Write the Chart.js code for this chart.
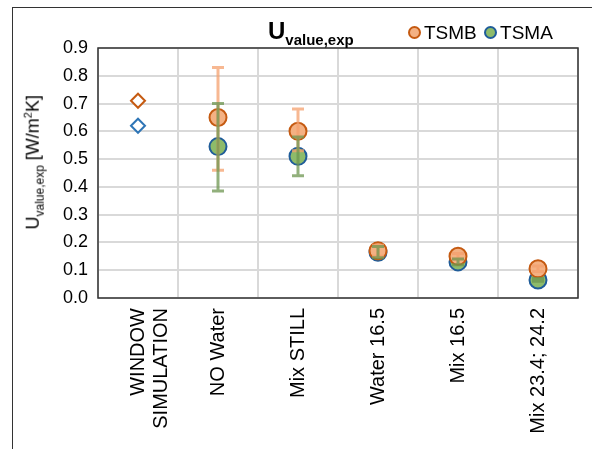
<!DOCTYPE html>
<html><head><meta charset="utf-8">
<script src="https://cdn.jsdelivr.net/npm/chart.js@4"></script>
<style>
body{margin:0;background:#fff;font-family:"Liberation Sans",Arial,sans-serif;}
#wrap{position:relative;width:592px;height:449px;}
#frame{position:absolute;left:12px;top:7px;width:600px;height:460px;border:1.5px solid #333;box-sizing:border-box;}
#title{position:absolute;left:268px;top:17px;font-size:24px;font-weight:bold;color:#000;}
#title sub{font-size:15px;}
#legend{position:absolute;left:408px;top:22px;font-size:19px;color:#000;}
.dot{display:inline-block;width:9px;height:9px;border-radius:50%;border:2px solid;margin:0 3px 2px 0;vertical-align:middle;}
#ylab{position:absolute;left:-66px;top:150px;width:200px;transform:rotate(-90deg);text-align:center;font-size:18px;}
#ylab sub{font-size:12px;}
canvas{position:absolute;left:0;top:0;}
</style></head><body>
<div id="wrap">
<div id="frame"></div>
<canvas id="c" width="592" height="449"></canvas>
<div id="title">U<sub>value,exp</sub></div>
<div id="legend"><span class="dot" style="background:#F4B183;border-color:#C55A11"></span>TSMB <span class="dot" style="background:#8DBB6A;border-color:#1F5C99;margin-left:2px"></span>TSMA</div>
<div id="ylab">U<sub>value,exp</sub> [W/m<sup style="font-size:11px">2</sup>K]</div>
</div>
<script>
const categories = [["WINDOW","SIMULATION"], "NO Water", "Mix STILL", "Water 16.5", "Mix 16.5", ["Mix 23.4; 24.2"]];
const tsmb = [null, 0.65, 0.60, 0.17, 0.15, 0.105];
const tsmbLow = [null, 0.46, 0.53, 0.15, 0.14, 0.095];
const tsmbHigh = [null, 0.83, 0.68, 0.19, 0.16, 0.115];
const tsma = [null, 0.545, 0.51, 0.165, 0.13, 0.065];
const tsmaLow = [null, 0.385, 0.44, 0.145, 0.12, 0.06];
const tsmaHigh = [null, 0.70, 0.58, 0.185, 0.14, 0.07];
const simB = [0.71, null, null, null, null, null];
const simA = [0.62, null, null, null, null, null];

const errorBars = {
  id: 'errorBars',
  afterDatasetsDraw(chart) {
    const ctx = chart.ctx, y = chart.scales.y;
    const sets = [[0, tsmbLow, tsmbHigh, 'rgba(244,160,110,0.75)'], [1, tsmaLow, tsmaHigh, 'rgba(110,150,80,0.75)']];
    for (const [di, lo, hi, col] of sets) {
      const meta = chart.getDatasetMeta(di);
      meta.data.forEach((pt, i) => {
        if (lo[i] == null) return;
        const x = pt.x, y1 = y.getPixelForValue(lo[i]), y2 = y.getPixelForValue(hi[i]);
        ctx.save(); ctx.strokeStyle = col; ctx.lineWidth = 3;
        ctx.beginPath(); ctx.moveTo(x, y1); ctx.lineTo(x, y2);
        ctx.moveTo(x - 6, y1); ctx.lineTo(x + 6, y1);
        ctx.moveTo(x - 6, y2); ctx.lineTo(x + 6, y2); ctx.stroke(); ctx.restore();
      });
    }
  }
};
const frame = {
  id: 'frame',
  afterDraw(chart) {
    const a = chart.chartArea, ctx = chart.ctx;
    ctx.save(); ctx.strokeStyle = '#333'; ctx.lineWidth = 1.5;
    ctx.strokeRect(a.left, a.top, a.right - a.left, a.bottom - a.top); ctx.restore();
  }
};

new Chart(document.getElementById('c'), {
  type: 'line',
  data: {
    labels: categories,
    datasets: [
      { label: 'TSMB', data: tsmb, showLine: false, pointRadius: 8.5, pointBackgroundColor: '#F4B183', pointBorderColor: '#C55A11', pointBorderWidth: 2 },
      { label: 'TSMA', data: tsma, showLine: false, pointRadius: 8.5, pointBackgroundColor: '#8DBB6A', pointBorderColor: '#1F5C99', pointBorderWidth: 2 },
      { label: 'simB', data: simB, showLine: false, pointStyle: 'rectRot', pointRadius: 7, pointBackgroundColor: '#fff', pointBorderColor: '#C55A11', pointBorderWidth: 2 },
      { label: 'simA', data: simA, showLine: false, pointStyle: 'rectRot', pointRadius: 7, pointBackgroundColor: '#fff', pointBorderColor: '#2E75B6', pointBorderWidth: 2 }
    ]
  },
  options: {
    responsive: false, animation: false,
    layout: { padding: { left: 0, right: 14, top: 48, bottom: 0 } },
    plugins: { legend: { display: false }, tooltip: { enabled: false } },
    scales: {
      x: {
        offset: true, afterFit(s) { s.height = 151; },
        grid: { color: '#d9d9d9', lineWidth: 2, offset: true, drawTicks: false },
        border: { display: false },
        ticks: { color: '#000', font: { size: 20, family: 'Liberation Sans', lineHeight: 1.15 }, minRotation: 90, maxRotation: 90, padding: 10 }
      },
      y: {
        min: 0, max: 0.9, afterFit(s) { s.width = 98; },
        grid: { color: '#d9d9d9', lineWidth: 2, drawTicks: false },
        border: { display: false },
        ticks: { stepSize: 0.1, color: '#000', padding: 10, font: { size: 18, family: 'Liberation Sans' }, callback: v => v.toFixed(1) }
      }
    }
  },
  plugins: [errorBars, frame]
});
</script>
</body></html>
